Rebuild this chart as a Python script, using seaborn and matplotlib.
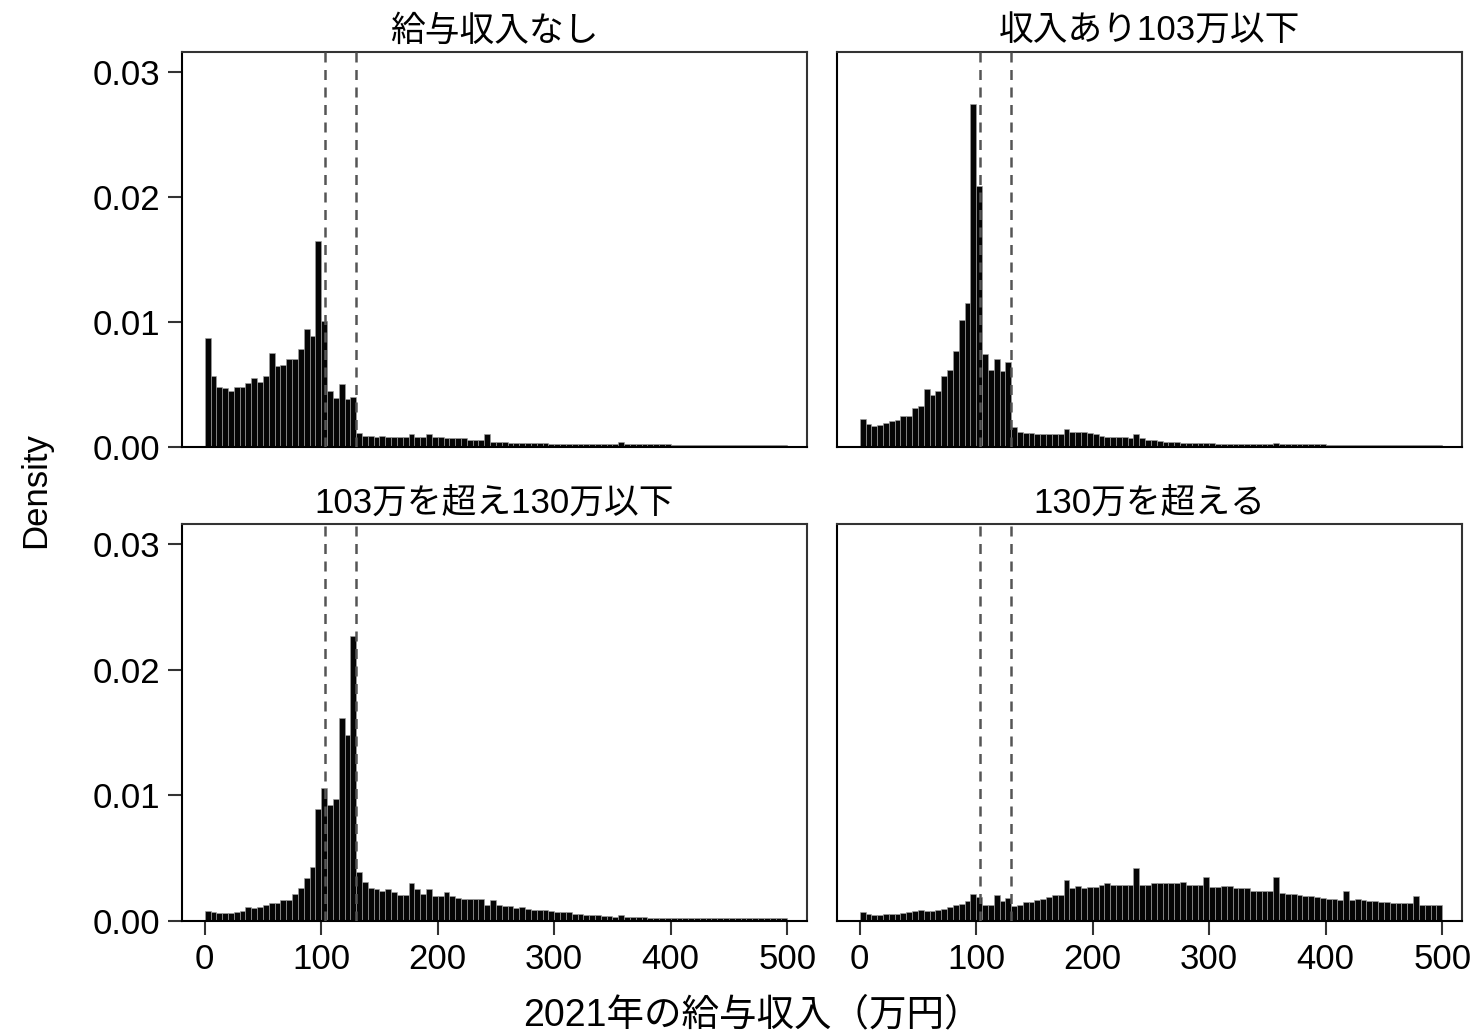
import numpy as np
import pandas as pd
import matplotlib
matplotlib.use("Agg")
import matplotlib.pyplot as plt
import seaborn as sns

# ---- data: density per 5-unit bin (0-500) ----
bin_edges = list(range(0, 505, 5))
titles = ["給与収入なし", "収入あり103万以下", "103万を超え130万以下", "130万を超える"]
xticks = [0, 100, 200, 300, 400, 500]
yticks = [0.00, 0.01, 0.02, 0.03]
ytick_labels = ["0.00", "0.01", "0.02", "0.03"]
vlines = [103, 130]

dens_none = [
    0.0087, 0.0057, 0.0048, 0.0047, 0.0045, 0.0048, 0.0048, 0.0051, 0.0055, 0.0052,
    0.0057, 0.0075, 0.0065, 0.0066, 0.0070, 0.0070, 0.0078, 0.0094, 0.0089, 0.0165,
    0.0101, 0.0045, 0.0039, 0.0050, 0.0038, 0.0040, 0.0011, 0.0009, 0.00085, 0.0008,
    0.0009, 0.0008, 0.0008, 0.0008, 0.0008, 0.00105, 0.0008, 0.0008, 0.0010, 0.0008,
    0.0008, 0.0007, 0.0007, 0.0007, 0.0007, 0.0006, 0.0006, 0.0006, 0.00105, 0.0004,
    0.0004, 0.0004, 0.0003, 0.0003, 0.0003, 0.0003, 0.00035, 0.0003, 0.0003, 0.00025,
    0.00025, 0.00022, 0.00025, 0.00022, 0.00022, 0.00022, 0.00022, 0.00022, 0.00025, 0.00022,
    0.00022, 0.0004, 0.0002, 0.0002, 0.0002, 0.0002, 0.0002, 0.0002, 0.0002, 0.0002,
    0.00018, 0.00018, 0.00018, 0.00018, 0.00018, 0.00018, 0.00018, 0.00018, 0.00018, 0.00018,
    0.00018, 0.00018, 0.00018, 0.00018, 0.00018, 0.00018, 0.00018, 0.00018, 0.00018, 0.00018,
]
dens_le103 = [
    0.00227, 0.00184, 0.0017, 0.00179, 0.00192, 0.00205, 0.00219, 0.0025, 0.0025, 0.0031,
    0.00325, 0.00464, 0.00419, 0.0045, 0.00565, 0.00619, 0.0077, 0.0102, 0.0115, 0.02744,
    0.02085, 0.00747, 0.00619, 0.00704, 0.00605, 0.00677, 0.00157, 0.00117, 0.0011, 0.0011,
    0.00105, 0.00105, 0.0010, 0.0010, 0.0010, 0.0014, 0.0012, 0.0012, 0.0012, 0.0011,
    0.00105, 0.0009, 0.0008, 0.0008, 0.0008, 0.0008, 0.00075, 0.0010, 0.0007, 0.0006,
    0.0006, 0.0005, 0.0004, 0.0004, 0.0004, 0.00035, 0.0003, 0.0003, 0.0003, 0.00028,
    0.00028, 0.00025, 0.00025, 0.00025, 0.00025, 0.00025, 0.00022, 0.00022, 0.00022, 0.00022,
    0.00022, 0.0003, 0.0002, 0.0002, 0.0002, 0.0002, 0.0002, 0.0002, 0.0002, 0.0002,
    0.00018, 0.00018, 0.00018, 0.00018, 0.00018, 0.00018, 0.00018, 0.00018, 0.00018, 0.00018,
    0.00018, 0.00018, 0.00018, 0.00018, 0.00018, 0.00018, 0.00018, 0.00018, 0.00018, 0.00018,
]
dens_103_130 = [
    0.00077, 0.00072, 0.00066, 0.00066, 0.00066, 0.0007, 0.0008, 0.0011, 0.0010, 0.0011,
    0.00125, 0.00143, 0.00143, 0.00164, 0.00164, 0.00218, 0.00263, 0.00345, 0.0043, 0.00889,
    0.01061, 0.0092, 0.00973, 0.01618, 0.01483, 0.02265, 0.0039, 0.0031, 0.00265, 0.00257,
    0.00239, 0.00257, 0.0023, 0.0021, 0.0021, 0.0030, 0.00257, 0.00217, 0.00257, 0.0020,
    0.0020, 0.0023, 0.00196, 0.00186, 0.00178, 0.00178, 0.00178, 0.00178, 0.0013, 0.00164,
    0.0013, 0.00117, 0.00117, 0.00106, 0.0011, 0.00098, 0.0009, 0.00085, 0.00085, 0.0008,
    0.00072, 0.0007, 0.00068, 0.00058, 0.00058, 0.00045, 0.0005, 0.00045, 0.0004, 0.0004,
    0.00035, 0.0005, 0.0003, 0.0003, 0.00028, 0.00028, 0.00025, 0.00025, 0.00025, 0.00025,
    0.00025, 0.00022, 0.00022, 0.00022, 0.00022, 0.00022, 0.00022, 0.0002, 0.0002, 0.0002,
    0.0002, 0.0002, 0.0002, 0.0002, 0.0002, 0.0002, 0.0002, 0.0002, 0.0002, 0.0002,
]
dens_gt130 = [
    0.00072, 0.00053, 0.00048, 0.00048, 0.00058, 0.00053, 0.00058, 0.00064, 0.00072, 0.0008,
    0.00085, 0.0008, 0.0008, 0.0009, 0.00098, 0.0011, 0.00125, 0.00138, 0.0016, 0.00218,
    0.00191, 0.00125, 0.00125, 0.00204, 0.0016, 0.00183, 0.00117, 0.00125, 0.00151, 0.00151,
    0.0017, 0.00178, 0.00191, 0.00204, 0.0021, 0.0033, 0.00265, 0.00278, 0.00265, 0.0027,
    0.0027, 0.0029, 0.0030, 0.0029, 0.00285, 0.00285, 0.00285, 0.00424, 0.0029, 0.0029,
    0.0030, 0.0030, 0.0030, 0.0030, 0.0030, 0.0031, 0.0029, 0.00285, 0.00285, 0.0035,
    0.0027, 0.0027, 0.0028, 0.0028, 0.0026, 0.0026, 0.0026, 0.0024, 0.0024, 0.0024,
    0.0024, 0.0035, 0.0022, 0.00215, 0.00215, 0.0021, 0.0020, 0.0020, 0.0019, 0.00186,
    0.00178, 0.00175, 0.0017, 0.0024, 0.0017, 0.00178, 0.0017, 0.0016, 0.0016, 0.0015,
    0.0015, 0.0014, 0.0014, 0.0014, 0.0014, 0.0020, 0.0013, 0.0013, 0.00125, 0.00125,
]
series = [dens_none, dens_le103, dens_103_130, dens_gt130]

# ---- style ----
sns.set_theme(style="ticks")
FONTS = ["Liberation Sans", "Noto Sans CJK JP", "DejaVu Sans"]
plt.rcParams["font.family"] = FONTS
plt.rcParams["axes.linewidth"] = 1.5
plt.rcParams["text.color"] = "black"
plt.rcParams["axes.labelcolor"] = "black"
plt.rcParams["xtick.color"] = "black"
plt.rcParams["ytick.color"] = "black"
plt.rcParams["axes.titlecolor"] = "black"

W, H = 1476, 1034
fig = plt.figure(figsize=(W / 100, H / 100), dpi=100)

# panel boxes in pixels: (left, top, right, bottom)
boxes = [
    (182, 52, 807, 447),
    (837, 52, 1462, 447),
    (182, 524, 807, 921),
    (837, 524, 1462, 921),
]

centers = [e + 2.5 for e in bin_edges[:-1]]
for i, (dens, title, box) in enumerate(zip(series, titles, boxes)):
    l, t, r, b = box
    ax = fig.add_axes([l / W, 1 - b / H, (r - l) / W, (b - t) / H])
    df = pd.DataFrame({"x": centers, "w": dens})
    sns.histplot(data=df, x="x", weights="w", bins=bin_edges, stat="count",
                 color="#050505", alpha=1.0, edgecolor="#a0a0a0", linewidth=0.45,
                 ax=ax)
    for v in vlines:
        ax.axvline(v, color="#555555", linestyle=(0, (4, 3)), linewidth=1.8, zorder=3)
    ax.set_xlim(-19.5, 517)
    ax.set_ylim(0, 0.0316)
    ax.set_title(title, fontsize=25, pad=8, color="black")
    ax.set_xlabel("")
    ax.set_ylabel("")
    for side in ["top", "right"]:
        ax.spines[side].set_color("#333333")
    for side in ["left", "bottom"]:
        ax.spines[side].set_color("black")
    ax.tick_params(axis="both", length=10, width=1.5, color="#333333",
                   labelcolor="black", labelsize=25, pad=6)
    if i in (0, 2):
        ax.set_yticks(yticks)
        ax.set_yticklabels(ytick_labels)
    else:
        ax.set_yticks([])
    if i in (2, 3):
        ax.set_xticks(xticks)
        ax.set_xticklabels([str(v) for v in xticks])
    else:
        ax.set_xticks([])

fig.text(752 / W, 1 - 1015 / H, "2021年の給与収入（万円）", ha="center", va="center",
         fontsize=27, color="black")
fig.text(36 / W, 1 - 490 / H, "Density", ha="center", va="center",
         rotation=90, fontsize=25, color="black")

fig.savefig("out.png", dpi=100, facecolor="white")
